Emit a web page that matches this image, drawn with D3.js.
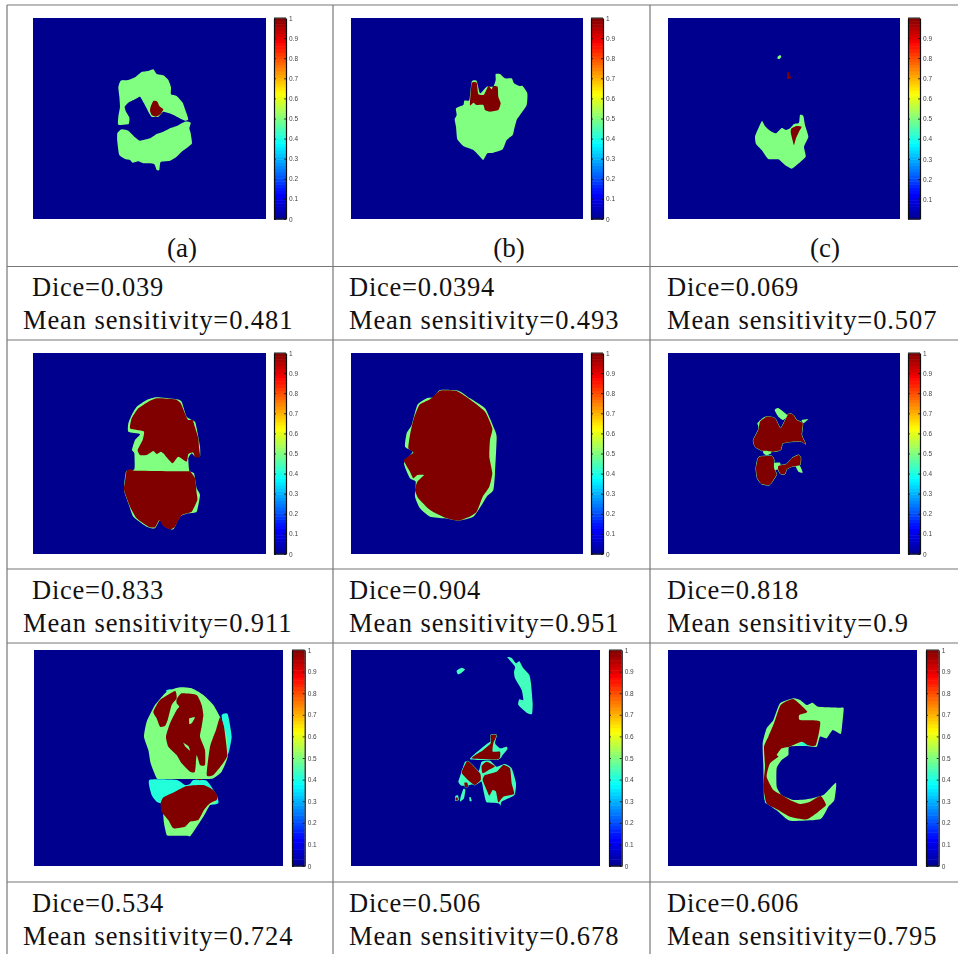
<!DOCTYPE html>
<html>
<head>
<meta charset="utf-8">
<script src="https://cdn.jsdelivr.net/npm/d3@7"></script>
<style>
  html, body { margin: 0; padding: 0; background: #fff; overflow: hidden; }
</style>
</head>
<body>
<svg id="chart" width="958" height="954"></svg>
<script>
// table text
var captions = ["(a)", "(b)", "(c)"]
var dice_values = ["0.039", "0.0394", "0.069", "0.833", "0.904", "0.818", "0.534", "0.506", "0.606"]
var sensitivity_values = ["0.481", "0.493", "0.507", "0.911", "0.951", "0.9", "0.724", "0.678", "0.795"]

// colorbar
var jet_stops = [0, 0.125, 0.375, 0.625, 0.875, 1]
var jet_colors = ["#00008f", "#0000ff", "#00ffff", "#ffff00", "#ff0000", "#800000"]
var bar_ticks = [0, 0.1, 0.2, 0.3, 0.4, 0.5, 0.6, 0.7, 0.8, 0.9, 1]
var bar_ticks_c = [0.1, 0.2, 0.3, 0.4, 0.5, 0.6, 0.7, 0.8, 0.9]

// segmentation regions, each is [label value, outline in image units], later ones paint on top
var regions_a = [
  [0.5, [[355,262],[362,242],[385,240],[405,232],[425,216],[445,213],[460,208],[470,222],[490,226],[505,240],[513,262],[513,283],[530,288],[548,308],[556,330],[565,358],[555,362],[530,350],[508,340],[490,335],[475,350],[455,350],[445,335],[432,310],[420,290],[405,298],[385,308],[374,320],[378,335],[388,352],[386,372],[355,374],[355,350],[360,320],[358,290]]],
  [0.5, [[572,368],[555,365],[530,378],[510,385],[490,395],[470,402],[450,415],[420,422],[405,412],[385,392],[365,388],[352,400],[352,425],[358,465],[378,478],[390,480],[398,488],[415,484],[430,490],[462,492],[470,510],[478,510],[482,486],[510,482],[530,470],[545,455],[565,440],[576,430],[572,400],[568,385]]],
  [1, [[452,320],[460,303],[472,305],[478,318],[490,328],[482,342],[468,350],[455,345],[450,332]]]
]
var regions_b = [
  [0.5, [[497,222],[510,222],[525,235],[545,235],[552,250],[568,258],[578,258],[592,280],[590,315],[570,345],[560,360],[552,390],[548,405],[530,420],[518,448],[490,458],[472,460],[460,480],[448,468],[430,450],[400,438],[382,418],[378,380],[374,358],[380,345],[378,325],[400,315],[403,302],[418,300],[425,245],[440,243],[450,280],[470,260],[490,260],[497,240]]],
  [1, [[420,315],[425,250],[440,248],[445,282],[462,284],[475,258],[485,268],[490,258],[503,260],[505,290],[512,310],[505,330],[480,335],[465,330],[460,315],[440,315],[430,308]]]
]
var regions_c = [
  [0.5, [[383,170],[390,165],[394,170],[388,177],[383,176]]],
  [0.5, [[336,363],[345,378],[360,392],[378,400],[395,384],[408,390],[420,385],[432,372],[447,368],[450,345],[460,348],[465,375],[475,410],[462,440],[467,470],[440,495],[425,506],[405,495],[385,478],[355,477],[335,450],[318,432],[315,410],[325,385]]],
  [1, [[412,218],[416,216],[423,235],[412,236]]],
  [1, [[425,385],[440,378],[455,380],[447,395],[438,415],[432,435],[425,410],[422,395]]]
]
var regions_d = [
  [0.5, [[385,275],[385,250],[395,225],[410,200],[440,180],[470,172],[530,178],[545,185],[560,230],[585,245],[590,265],[600,320],[600,350],[585,350],[575,340],[565,355],[568,392],[582,400],[590,445],[600,465],[590,515],[565,520],[540,530],[520,568],[495,560],[480,540],[465,565],[440,560],[400,530],[385,490],[372,450],[378,395],[403,388],[403,340],[396,330],[405,300],[420,282]]],
  [1, [[390,265],[395,235],[415,205],[445,185],[470,175],[525,178],[542,190],[558,228],[565,240],[578,240],[585,262],[595,295],[597,322],[600,350],[585,352],[580,338],[565,342],[560,365],[535,350],[518,370],[505,358],[490,340],[482,335],[470,342],[460,333],[440,345],[420,345],[413,330],[428,300],[432,275],[410,270]]],
  [1, [[380,392],[395,388],[415,408],[400,392],[410,392],[560,394],[570,394],[585,415],[590,460],[592,480],[575,515],[545,525],[525,560],[510,568],[490,558],[478,540],[465,562],[445,560],[410,535],[390,500],[372,450],[375,425]]]
]
var regions_e = [
  [0.5, [[330,150],[385,152],[420,175],[465,205],[490,260],[500,290],[495,400],[490,450],[470,470],[455,495],[430,530],[385,542],[345,535],[300,530],[270,505],[255,470],[257,425],[240,415],[222,370],[248,335],[225,320],[230,280],[245,255],[262,195],[290,175],[310,172]]],
  [1, [[330,152],[380,153],[415,175],[465,215],[487,265],[480,300],[478,350],[487,400],[478,440],[458,470],[440,515],[415,532],[385,542],[350,535],[300,510],[265,475],[255,450],[262,425],[282,405],[262,405],[250,415],[240,395],[222,360],[250,338],[235,325],[240,285],[250,240],[268,195],[300,178]]]
]
var regions_f = [
  [0.5, [[374,210],[385,204],[412,226],[400,240],[385,230]]],
  [0.5, [[455,240],[475,238],[460,250]]],
  [0.5, [[322,250],[345,230],[360,250],[335,270]]],
  [0.5, [[340,330],[350,326],[365,338],[350,346],[340,340]]],
  [0.5, [[370,370],[390,368],[392,385],[375,390]]],
  [0.5, [[437,378],[450,378],[458,398],[445,395]]],
  [1, [[310,300],[325,270],[330,245],[350,230],[375,235],[392,265],[415,222],[430,225],[440,240],[458,250],[455,285],[467,312],[455,305],[425,305],[398,310],[392,330],[370,335],[345,332],[335,332],[315,320]]],
  [1, [[328,350],[365,348],[372,360],[372,385],[380,403],[370,420],[358,435],[335,432],[322,415],[318,385],[322,362]]],
  [1, [[385,378],[410,372],[425,355],[445,345],[452,352],[450,375],[425,380],[410,388],[405,402],[392,402],[385,390]]]
]
var regions_g = [
  [0.41, [[498,152],[510,148],[525,152],[510,165]]],
  [0.41, [[665,225],[683,222],[695,290],[683,345],[670,260]]],
  [0.41, [[448,420],[530,420],[555,435],[570,432],[580,420],[620,422],[650,465],[655,490],[625,495],[490,490],[470,485],[455,465]]],
  [0.5, [[432,290],[440,245],[465,195],[500,155],[540,142],[575,145],[610,165],[640,195],[662,235],[680,290],[683,350],[665,395],[640,415],[625,417],[485,417],[470,415],[452,370],[445,330]]],
  [0.5, [[488,500],[492,550],[500,585],[510,587],[560,587],[572,587],[610,530],[630,495],[645,490],[640,480],[490,480]]],
  [1, [[482,490],[490,472],[525,455],[560,438],[610,435],[640,450],[652,468],[650,480],[630,490],[612,510],[595,540],[570,545],[555,560],[520,565],[505,540],[485,515]]],
  [1, [[460,215],[480,180],[525,153],[530,175],[515,195],[503,240],[495,258],[480,260],[470,235]]],
  [1, [[530,178],[545,160],[590,165],[605,195],[610,225],[605,260],[600,290],[615,330],[615,375],[600,375],[590,345],[585,395],[570,395],[545,370],[530,345],[505,320],[498,290],[510,250],[530,210],[538,200],[530,190]]],
  [1, [[660,232],[672,260],[682,345],[665,375],[640,405],[620,405],[630,320],[648,270]]],
  [1, [[590,417],[605,417],[600,421]]],
  [0.5, [[568,235],[585,232],[575,250],[568,252]]],
  [0.5, [[550,308],[565,318],[570,332],[558,322]]]
]
var regions_h = [
  [0.44, [[532,52],[545,54],[558,70],[568,64],[580,85],[598,105],[603,130],[608,190],[606,222],[590,218],[565,195],[568,178],[580,180],[575,150],[555,115],[552,95],[555,80]]],
  [0.44, [[380,92],[395,83],[405,88],[395,98],[384,103]]],
  [0.44, [[420,358],[470,312],[485,302],[482,285],[500,285],[495,310],[510,325],[530,320],[532,328],[518,345],[505,358]]],
  [0.44, [[385,425],[395,395],[405,365],[420,368],[445,395],[455,365],[480,362],[500,380],[525,372],[545,385],[558,430],[553,465],[515,485],[512,497],[505,490],[470,487],[462,460],[455,425],[445,430],[420,435],[395,437]]],
  [0.44, [[392,470],[400,447],[406,450],[402,475],[390,485]]],
  [0.44, [[418,472],[422,472],[425,483],[419,483]]],
  [0.44, [[376,468],[384,466],[386,480],[376,482]]],
  [1, [[425,355],[460,330],[482,310],[482,285],[500,285],[490,310],[488,335],[510,335],[505,358]]],
  [1, [[395,398],[410,365],[420,368],[450,400],[452,420],[435,435],[420,425]]],
  [1, [[455,378],[470,365],[495,378],[480,388],[458,400]]],
  [1, [[458,420],[465,405],[500,395],[520,375],[540,385],[545,430],[552,462],[520,470],[505,487],[498,455],[488,450],[478,467],[470,450]]],
  [1, [[403,428],[412,428],[414,440],[405,440]]],
  [1, [[377,473],[383,473],[383,481],[377,481]]]
]
var regions_i = [
  [0.5, [[340,378],[338,310],[350,265],[370,240],[390,190],[430,175],[450,180],[470,195],[488,188],[505,200],[570,203],[581,205],[576,260],[572,282],[548,270],[530,295],[510,290],[500,320],[470,318],[418,320],[415,345],[395,360],[380,385],[380,440],[395,465],[430,480],[470,478],[520,465],[558,428],[553,480],[535,500],[510,538],[420,542],[385,515],[350,490],[342,470]]],
  [0.41, [[443,316],[460,306],[475,318]]],
  [0.41, [[344,462],[350,465],[355,490],[345,488]]],
  [1, [[345,380],[342,320],[355,290],[372,250],[392,195],[430,177],[472,215],[448,225],[450,240],[510,245],[498,315],[475,316],[455,305],[418,320],[395,325],[380,345],[385,350],[360,370],[350,410],[370,450],[395,465],[420,480],[450,492],[480,485],[512,468],[528,495],[505,515],[470,538],[420,530],[385,510],[350,490],[340,440]]]
]
var all_regions = [regions_a, regions_b, regions_c, regions_d, regions_e, regions_f, regions_g, regions_h, regions_i]

var svg = d3.select("#chart")

svg.append("defs").append("filter")
    .attr("id", "soft")
    .attr("x", "-5%").attr("y", "-5%").attr("width", "110%").attr("height", "110%")
  .append("feGaussianBlur")
    .attr("stdDeviation", 0.45)

// jet colormap, 64 levels like the matlab one
var jet = d3.scaleLinear().domain(jet_stops).range(jet_colors).clamp(true)

// where each column and row sits on the page
var col_left = [33, 351, 668]
var col_right = [266, 583, 900]
var row_top = [18, 353, 650]
var row_bottom = [219, 554, 866]
var wide_left = [34, 351, 668]
var wide_right = [283, 600, 917]

// the outlines were read per panel, these are the image edges in those units
var src_x = [[99, 798], [63, 759], [54, 750]]
var src_y = [[54, 657], [39, 642], [30, 678]]
var src_x_wide = [[102, 849], [63, 810], [54, 801]]

/*---------------------------- table rules ----------------------------*/
var h_rules = [5, 266.5, 340, 569, 643, 882]
var v_rules = [7, 333, 650]

svg.selectAll(".hrule").data(h_rules).enter().append("line")
    .attr("class", "hrule")
    .attr("x1", 7).attr("x2", 958)
    .attr("y1", function(d) { return d }).attr("y2", function(d) { return d })
    .attr("stroke", "#777").attr("stroke-width", 1.2)

svg.selectAll(".vrule").data(v_rules).enter().append("line")
    .attr("class", "vrule")
    .attr("x1", function(d) { return d }).attr("x2", function(d) { return d })
    .attr("y1", 5).attr("y2", 954)
    .attr("stroke", "#777").attr("stroke-width", 1.2)

/*---------------------------- panels ----------------------------*/
function draw_panel(i) {
    var col = i % 3
    var row = Math.floor(i / 3)
    var wide = row == 2

    var x0 = wide ? wide_left[col] : col_left[col]
    var x1 = wide ? wide_right[col] : col_right[col]
    var y0 = row_top[row]
    var y1 = row_bottom[row]

    var x = d3.scaleLinear().domain(wide ? src_x_wide[col] : src_x[col]).range([x0, x1])
    var y = d3.scaleLinear().domain(src_y[row]).range([y0, y1])

    var line = d3.line()
        .x(function(d) { return x(d[0]) })
        .y(function(d) { return y(d[1]) })
        .curve(d3.curveCardinalClosed.tension(0.5))

    var g = svg.append("g").attr("filter", "url(#soft)")

    g.append("rect")
        .attr("x", x0).attr("y", y0)
        .attr("width", x1 - x0).attr("height", y1 - y0)
        .attr("fill", jet(0))

    var paths = g.selectAll("path").data(all_regions[i]).enter().append("path")
        .attr("d", function(d) { return line(d[1]) })
        .attr("fill", function(d) { return jet(d[0]) })

    // these two have a thin green edge right around the red
    if (i == 5 || i == 7) {
        paths.filter(function(d) { return d[0] == 1 })
            .attr("stroke", jet(i == 5 ? 0.5 : 0.44))
            .attr("stroke-width", 1)
            .style("paint-order", "stroke")
    }

    draw_colorbar(i, x1 + (wide ? 9 : 8), y0, y1, wide ? 12.7 : 12)
}

function draw_colorbar(i, left, top, bottom, w) {
    var is_c = i == 2
    var scale = d3.scaleLinear().domain(is_c ? [0.002, 0.999] : [0, 1]).range([bottom, top])
    var levels = d3.range(64)
    var g = svg.append("g").attr("filter", "url(#soft)")

    g.selectAll("rect").data(levels).enter().append("rect")
        .attr("x", left)
        .attr("width", w)
        .attr("y", function(d) { return top + (bottom - top) * (63 - d) / 64 })
        .attr("height", (bottom - top) / 64 + 0.5)
        .attr("fill", function(d) { return jet((d + 0.5) / 64) })

    var ticks = is_c ? bar_ticks_c : bar_ticks

    var left_axis = d3.axisLeft(scale).tickValues(ticks).tickSize(-2).tickSizeOuter(0).tickFormat("")
    var right_axis = d3.axisRight(scale).tickValues(ticks).tickSize(-2).tickSizeOuter(0).tickPadding(3)
        .tickFormat(function(d) { return String(d) })

    g.append("g").attr("transform", "translate(" + left + ",0)").call(left_axis)
    var r = g.append("g").attr("transform", "translate(" + (left + w) + ",0)").call(right_axis)
    r.selectAll("text")
        .attr("fill", "#444")
        .style("font-family", "'Liberation Sans', sans-serif")
        .style("font-size", "6.5px")

    g.selectAll(".domain").attr("stroke", "#111").attr("stroke-width", 1.2)
    g.selectAll(".tick line").attr("stroke", "#111").attr("stroke-width", 0.8)

    // box ends
    g.append("line").attr("x1", left).attr("x2", left + w).attr("y1", top).attr("y2", top)
        .attr("stroke", "#444").attr("stroke-width", 1.2)
    g.append("line").attr("x1", left).attr("x2", left + w).attr("y1", bottom).attr("y2", bottom)
        .attr("stroke", "#111").attr("stroke-width", 1.2)
}

d3.range(9).forEach(draw_panel)

/*---------------------------- text ----------------------------*/
var serif = "'Liberation Serif', serif"
var caption_x = [182, 509, 825]
var dice_x = [32, 349, 667]
var mean_x = [23, 349, 667]
var dice_y = [296, 599, 912]
var mean_y = [329, 632, 945]

svg.selectAll(".caption").data(captions).enter().append("text")
    .attr("class", "caption")
    .attr("x", function(d, i) { return caption_x[i] })
    .attr("y", 257)
    .attr("text-anchor", "middle")
    .style("font-family", serif)
    .style("font-size", "27px")
    .attr("fill", "#111")
    .text(function(d) { return d })

svg.selectAll(".dice").data(dice_values).enter().append("text")
    .attr("class", "dice")
    .attr("x", function(d, i) { return dice_x[i % 3] })
    .attr("y", function(d, i) { return dice_y[Math.floor(i / 3)] })
    .style("font-family", serif)
    .style("font-size", "26.5px")
    .style("letter-spacing", "0.75px")
    .attr("fill", "#111")
    .text(function(d) { return "Dice=" + d })

svg.selectAll(".mean").data(sensitivity_values).enter().append("text")
    .attr("class", "mean")
    .attr("x", function(d, i) { return mean_x[i % 3] })
    .attr("y", function(d, i) { return mean_y[Math.floor(i / 3)] })
    .style("font-family", serif)
    .style("font-size", "26.5px")
    .style("letter-spacing", "0.9px")
    .attr("fill", "#111")
    .text(function(d) { return "Mean sensitivity=" + d })
</script>
</body>
</html>
